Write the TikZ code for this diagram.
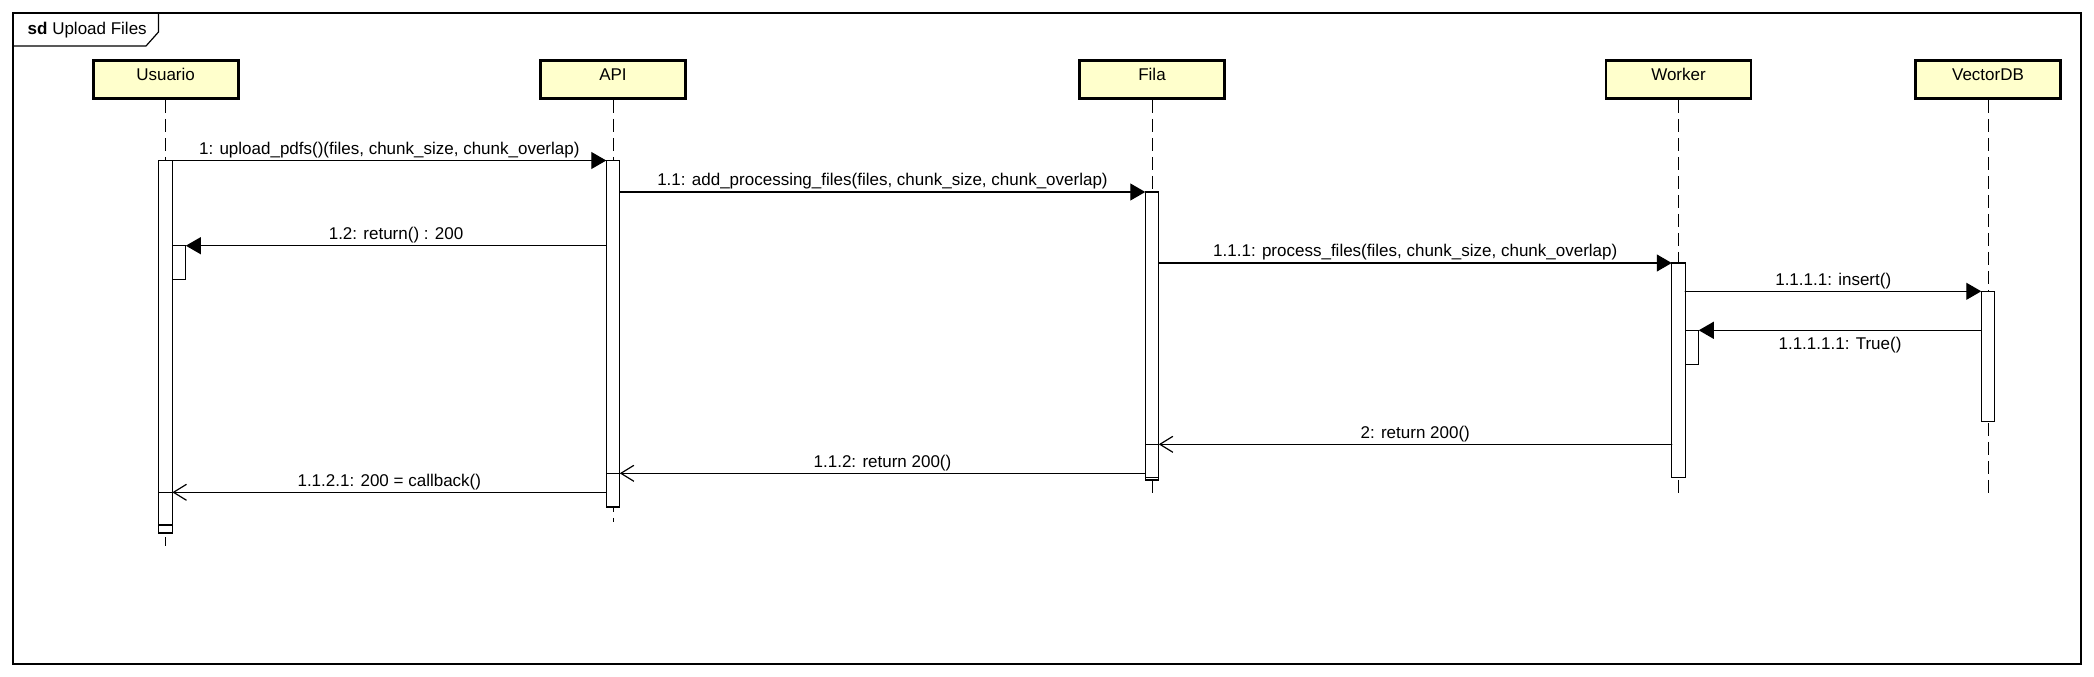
\documentclass[tikz,border=0pt]{standalone}
\usepackage{fontspec}
\setmainfont{Liberation Sans}
\usepackage{tikz}
\usetikzlibrary{arrows.meta}
\definecolor{headfill}{RGB}{255,255,204}

\begin{document}
\begin{tikzpicture}[line cap=round,line join=round,x=1pt,y=-1pt,
  font=\fontsize{17}{20}\selectfont,
  head/.style={draw,line width=2.8pt,line join=miter,fill=headfill,minimum width=145pt,minimum height=38pt,text height=12pt,text depth=10pt,inner sep=0pt},
  act/.style={draw,fill=white,line width=1.2pt,line join=miter,minimum width=13.5pt,inner sep=0pt,outer sep=0pt,anchor=north},
  lifeline/.style={line width=1pt,line cap=butt,dash pattern=on 13pt off 6pt},
  call/.style={-{Triangle[length=15pt,width=17pt]},line width=1.2pt},
  reply/.style={-{Straight Barb[length=13pt,width=16pt]},line width=1.2pt},
  msg/.style={inner sep=2pt}]
\useasboundingbox (0,0) rectangle (2094,677);
\draw [line width=1.5pt,line join=miter] (13,13) rectangle (2081,664);
\draw [line width=1.2pt] (13,46) -- (146,46) -- (158.5,32) -- (158.5,13);
\node [anchor=west,inner sep=0pt] (title) at (27.5,30) {\textbf{sd} Upload Files};

\node [head] (usuario) at (165.6,79.5) {Usuario};
\node [head] (api) at (613,79.5) {API};
\node [head] (fila) at (1152,79.5) {Fila};
\node [head] (worker) at (1678.5,79.5) {Worker};
\node [head] (vectordb) at (1988,79.5) {VectorDB};

\coordinate (endU) at (165.6,546);
\coordinate (endA) at (613,522);
\coordinate (endF) at (1152,498);
\coordinate (endW) at (1678.5,498);
\coordinate (endV) at (1988,498);
\draw [lifeline] (usuario.south) -- (endU);
\draw [lifeline] (api.south) -- (endA);
\draw [lifeline] (fila.south) -- (endF);
\draw [lifeline] (worker.south) -- (endW);
\draw [lifeline] (vectordb.south) -- (endV);

\node [act,minimum height=372.5pt] (actU) at (165.6,160.5) {};
\node [act,minimum height=33.6pt] (actUb) at (179.1,245.7) {};
\node [act,minimum height=32.7pt] (actUc) at (165.6,492.3) {};
\node [act,minimum height=346.5pt] (actA) at (613,160.5) {};
\node [act,minimum height=33.7pt] (actAb) at (613,473.3) {};
\node [act,minimum height=288pt] (actF) at (1152,192) {};
\node [act,minimum height=33.4pt] (actFb) at (1152,444.3) {};
\node [act,minimum height=214.7pt] (actW) at (1678.5,263) {};
\node [act,minimum height=34pt] (actWb) at (1692,330.3) {};
\node [act,minimum height=130.4pt] (actV) at (1988,291.3) {};

\draw [call] (actU.north east) -- (actA.north west) node[msg,midway,above] (m1) {1: upload\_pdfs()(files, chunk\_size, chunk\_overlap)};
\draw [call] (actA.east |- actF.north) -- (actF.north west) node[msg,midway,above] (m11) {1.1: add\_processing\_files(files, chunk\_size, chunk\_overlap)};
\draw [call] (actA.west |- actUb.north) -- (actUb.north east) node[msg,midway,above] (m12) {1.2: return() : 200};
\draw [call] (actF.east |- actW.north) -- (actW.north west) node[msg,midway,above] (m111) {1.1.1: process\_files(files, chunk\_size, chunk\_overlap)};
\draw [call] (actW.east |- actV.north) -- (actV.north west) node[msg,midway,above] (m1111) {1.1.1.1: insert()};
\draw [call] (actV.west |- actWb.north) -- (actWb.north east) node[msg,midway,below,inner sep=6pt] (m11111) {1.1.1.1.1: True()};
\draw [reply] (actW.west |- actFb.north) -- (actFb.north east) node[msg,midway,above] (m2) {2: return 200()};
\draw [reply] (actF.west |- actAb.north) -- (actAb.north east) node[msg,midway,above] (m112) {1.1.2: return 200()};
\draw [reply] (actA.west |- actUc.north) -- (actUc.north east) node[msg,midway,above] (m1121) {1.1.2.1: 200 = callback()};
\end{tikzpicture}
\end{document}
